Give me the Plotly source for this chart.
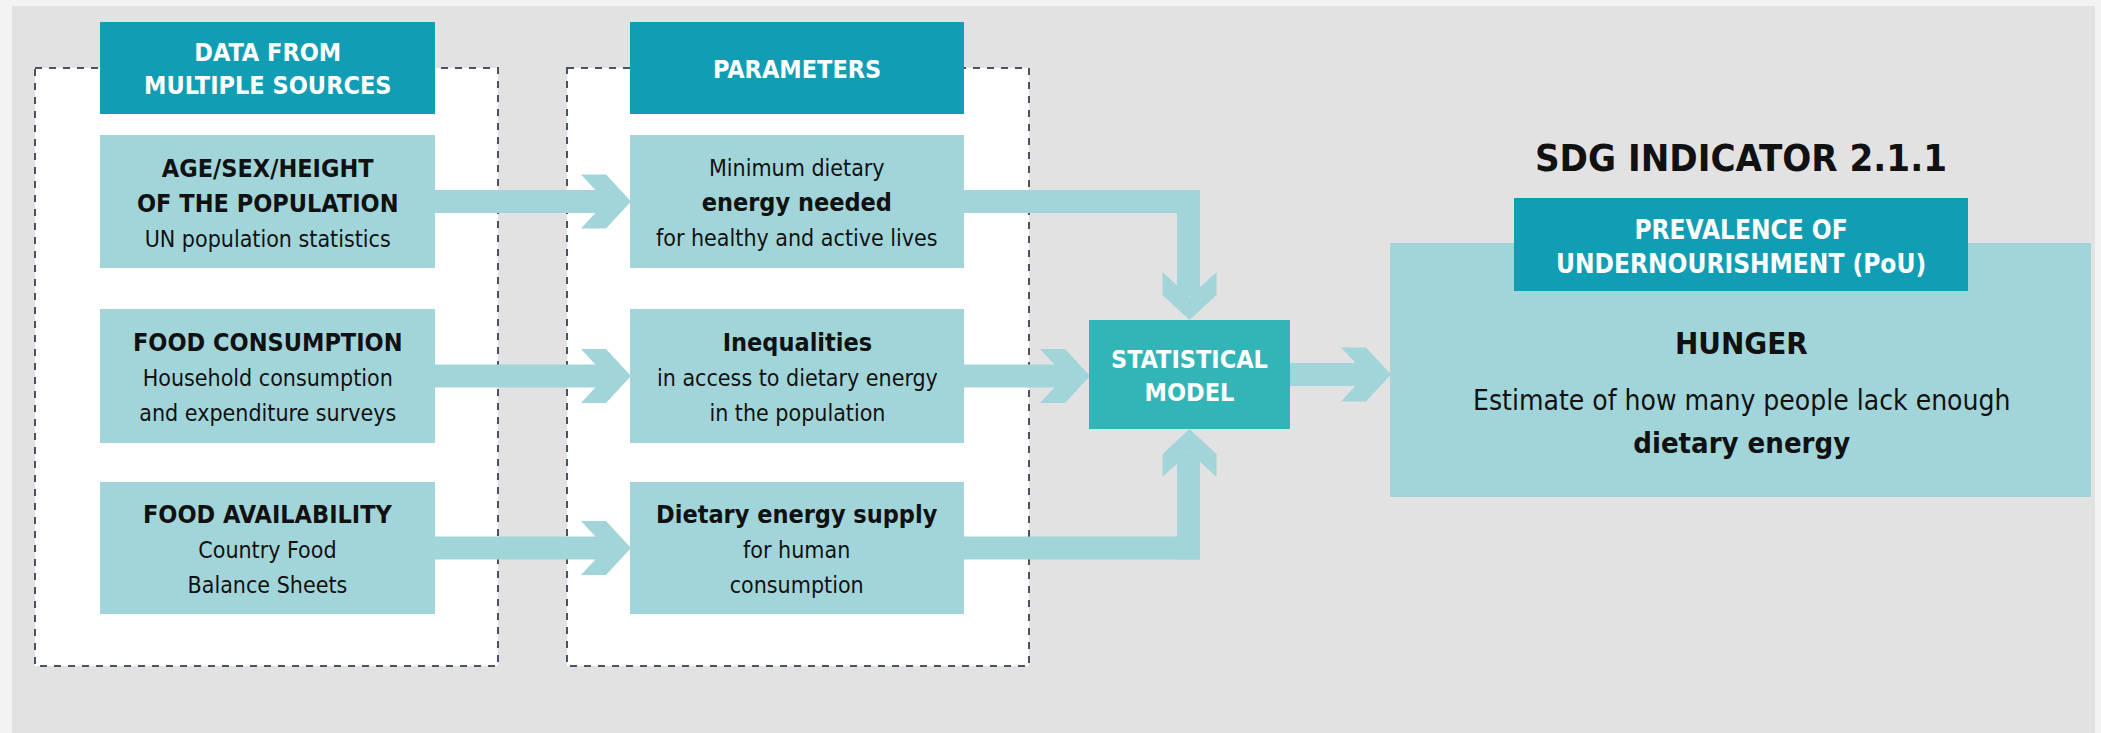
import plotly.graph_objects as go

# ---------------- content (text) ----------------
source_headers = ["DATA FROM<br>MULTIPLE SOURCES", "PARAMETERS"]
# each line: (text, is_bold)
source_lines = [
    [("AGE/SEX/HEIGHT", True), ("OF THE POPULATION", True), ("UN population statistics", False)],
    [("FOOD CONSUMPTION", True), ("Household consumption", False), ("and expenditure surveys", False)],
    [("FOOD AVAILABILITY", True), ("Country Food", False), ("Balance Sheets", False)],
]
parameter_lines = [
    [("Minimum dietary", False), ("energy needed", True), ("for healthy and active lives", False)],
    [("Inequalities", True), ("in access to dietary energy", False), ("in the population", False)],
    [("Dietary energy supply", True), ("for human", False), ("consumption", False)],
]
model_label = "STATISTICAL<br>MODEL"
indicator_title = "SDG INDICATOR 2.1.1"
indicator_header = "PREVALENCE OF<br>UNDERNOURISHMENT (PoU)"
result_title = "HUNGER"
result_lines = [("Estimate of how many people lack enough", False), ("dietary energy", True)]

# ---------------- layout geometry (pixels) ----------------
W, H = 2101, 733
FONT = "Liberation Sans Narrow, DejaVu Sans Condensed, Arial Narrow, sans-serif"
DARK = "#119eb5"
LIGHT = "#a2d5d9"
MID = "#33b5b8"
BG = "#e2e2e2"
TXT = "#111111"

col_x = [(100, 435), (630, 964)]
dash_x = [(35, 498), (567, 1029)]
dash_y = (68, 666)
header_y = (22, 114)
row_y = [(135, 268), (309, 443), (482, 614)]
model_box = (1089, 1290, 320, 429)
result_box = (1390, 2091, 243, 497)
pou_box = (1514, 1968, 198, 291)
shaft_half = 11.5
vert_x = (1177, 1200)

shapes = []
annotations = []


def rect(x0, x1, y0, y1, fill, line=None, dash=None, width=0):
    d = dict(type="rect", xref="x", yref="y", x0=x0, x1=x1, y0=y0, y1=y1,
             fillcolor=fill, layer="above")
    if line:
        d["line"] = dict(color=line, width=width, dash=dash)
    else:
        d["line"] = dict(width=0)
    shapes.append(d)


def poly(points, fill):
    p = "M" + " L".join(f"{x},{y}" for x, y in points) + " Z"
    shapes.append(dict(type="path", xref="x", yref="y", path=p, fillcolor=fill,
                       line=dict(width=0), layer="above"))


def chevron_right(tx, ty):
    poly([(tx - 50, ty - 27), (tx - 25, ty - 27), (tx, ty), (tx - 25, ty + 27),
          (tx - 50, ty + 27), (tx - 25, ty)], LIGHT)


def chevron_down(tx, ty):
    poly([(tx - 27, ty - 48), (tx, ty - 23), (tx + 27, ty - 48), (tx + 27, ty - 25),
          (tx, ty), (tx - 27, ty - 25)], LIGHT)


def chevron_up(tx, ty):
    poly([(tx - 27, ty + 48), (tx, ty + 23), (tx + 27, ty + 48), (tx + 27, ty + 25),
          (tx, ty), (tx - 27, ty + 25)], LIGHT)


def text(x, y, s, size, color=TXT):
    annotations.append(dict(x=x, y=y, xref="x", yref="y", text=s, showarrow=False,
                            xanchor="center", yanchor="middle", align="center",
                            font=dict(family=FONT, size=size, color=color)))


def fmt_lines(lines, bold_size, reg_size):
    out = []
    for s, b in lines:
        if b:
            out.append(f"<span style='font-size:{bold_size}px'><b>{s}</b></span>")
        else:
            out.append(f"<span style='font-size:{reg_size}px'>{s}</span>")
    return "<br>".join(out)


# background panel
rect(12, 2095, 6, H + 5, BG)

# dashed column panels
for (x0, x1) in dash_x:
    rect(x0, x1, dash_y[0], dash_y[1], "#ffffff", line="#4b5263", dash="7px,7px", width=2)

# arrows data -> parameters
for (y0, y1) in row_y:
    c = (y0 + y1) / 2
    rect(col_x[0][1], col_x[1][0] - 24, c - shaft_half, c + shaft_half, LIGHT)
    chevron_right(col_x[1][0] + 1, c)

# arrows parameters -> model
mcx = (model_box[0] + model_box[1]) / 2
c_top = (row_y[0][0] + row_y[0][1]) / 2
c_mid = (row_y[1][0] + row_y[1][1]) / 2
c_bot = (row_y[2][0] + row_y[2][1]) / 2
rect(col_x[1][1], vert_x[1], c_top - shaft_half, c_top + shaft_half, LIGHT)
rect(vert_x[0], vert_x[1], c_top - shaft_half, model_box[2] - 24, LIGHT)
chevron_down(mcx, model_box[2])
rect(col_x[1][1], model_box[0] - 24, c_mid - shaft_half, c_mid + shaft_half, LIGHT)
chevron_right(model_box[0] + 1, c_mid)
rect(col_x[1][1], vert_x[1], c_bot - shaft_half, c_bot + shaft_half, LIGHT)
rect(vert_x[0], vert_x[1], model_box[3] + 24, c_bot + shaft_half, LIGHT)
chevron_up(mcx, model_box[3])

# arrow model -> result
c_mod = (model_box[2] + model_box[3]) / 2
rect(model_box[1], result_box[0] - 24, c_mod - shaft_half, c_mod + shaft_half, LIGHT)
chevron_right(result_box[0] + 1, c_mod)

# column headers and boxes
for ci, (x0, x1) in enumerate(col_x):
    rect(x0, x1, header_y[0], header_y[1], DARK)
    text((x0 + x1) / 2, (header_y[0] + header_y[1]) / 2 + 1,
         "<b>" + source_headers[ci] + "</b>", 25, "#ffffff")
    lines = source_lines if ci == 0 else parameter_lines
    for ri, (y0, y1) in enumerate(row_y):
        rect(x0, x1, y0, y1, LIGHT)
        text((x0 + x1) / 2, (y0 + y1) / 2 + 1, fmt_lines(lines[ri], 25, 23), 27)

# model box
rect(model_box[0], model_box[1], model_box[2], model_box[3], MID)
text(mcx, c_mod + 1, "<b>" + model_label + "</b>", 25, "#ffffff")

# result box
rect(result_box[0], result_box[1], result_box[2], result_box[3], LIGHT)
rect(pou_box[0], pou_box[1], pou_box[2], pou_box[3], DARK)
text((pou_box[0] + pou_box[1]) / 2, (pou_box[2] + pou_box[3]) / 2 + 2,
     "<b>" + indicator_header + "</b>", 26, "#ffffff")
text((pou_box[0] + pou_box[1]) / 2, 158, "<b>" + indicator_title + "</b>", 38)
rcx = (pou_box[0] + pou_box[1]) / 2
text(rcx, 343, "<b>" + result_title + "</b>", 31)
text(rcx, 422, fmt_lines(result_lines, 29, 28), 33)

fig = go.Figure()
fig.add_trace(go.Scatter(x=[], y=[], mode="markers", showlegend=False))
fig.update_layout(
    width=W, height=H,
    margin=dict(l=0, r=0, t=0, b=0),
    paper_bgcolor="#f3f3f3", plot_bgcolor="#f3f3f3",
    xaxis=dict(range=[0, W], visible=False, fixedrange=True),
    yaxis=dict(range=[H, 0], visible=False, fixedrange=True),
    shapes=shapes, annotations=annotations, showlegend=False,
)
fig.write_html("out.html", config={"displayModeBar": False},
               post_script="document.body.style.margin='0';document.body.style.overflow='hidden';")
